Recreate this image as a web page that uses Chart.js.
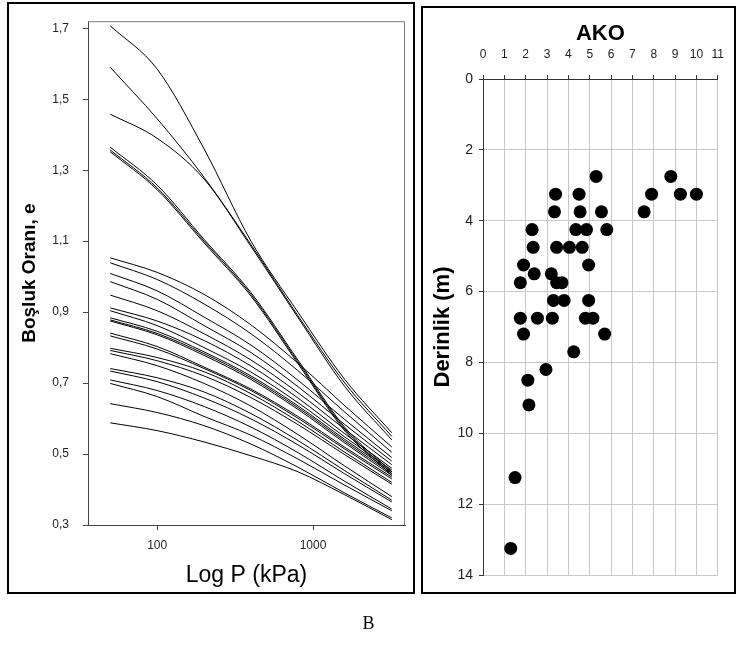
<!DOCTYPE html>
<html><head><meta charset="utf-8">
<script src="https://cdn.jsdelivr.net/npm/chart.js@4.4.1/dist/chart.umd.min.js"></script>
<style>
html,body{margin:0;padding:0;background:#fff;}
body{width:737px;height:647px;position:relative;overflow:hidden;}
canvas{position:absolute;left:0;top:0;}
.panel{position:absolute;border:2px solid #000;box-sizing:border-box;}
#cap{position:absolute;left:0;width:737px;top:613px;text-align:center;font:18px "Liberation Serif","Times New Roman",serif;color:#000;}
</style></head><body>
<div class="panel" style="left:7px;top:2px;width:408px;height:592px"></div>
<div class="panel" style="left:421px;top:6px;width:315px;height:588px"></div>
<canvas id="c1" width="737" height="647"></canvas>
<canvas id="c2" width="737" height="647"></canvas>
<div id="cap">B</div>
<script>
// ---------- Left panel data: void ratio e vs pressure P (kPa) ----------
const pressures = [50, 100, 200, 400, 800, 1600, 3200];
const xTickValues = [100, 1000];
const yTickValues = [0.3, 0.5, 0.7, 0.9, 1.1, 1.3, 1.5, 1.7];

const e01 = [1.707, 1.585, 1.360, 1.100, 0.900, 0.710, 0.560];
const e02 = [1.590, 1.445, 1.280, 1.090, 0.890, 0.700, 0.550];
const e03 = [1.458, 1.390, 1.275, 1.085, 0.885, 0.690, 0.540];
const e04 = [1.365, 1.258, 1.105, 0.955, 0.765, 0.575, 0.450];
const e05 = [1.357, 1.250, 1.100, 0.950, 0.760, 0.570, 0.445];
const e06 = [1.352, 1.245, 1.095, 0.945, 0.755, 0.565, 0.440];
const e07 = [1.053, 1.012, 0.950, 0.864, 0.756, 0.636, 0.520];
const e08 = [1.039, 0.992, 0.923, 0.839, 0.735, 0.618, 0.505];
const e09 = [1.009, 0.960, 0.886, 0.807, 0.708, 0.597, 0.490];
const e10 = [0.986, 0.936, 0.862, 0.786, 0.690, 0.583, 0.480];
const e11 = [0.948, 0.904, 0.839, 0.765, 0.673, 0.570, 0.470];
const e12 = [0.912, 0.875, 0.820, 0.748, 0.658, 0.557, 0.460];
const e13 = [0.904, 0.862, 0.800, 0.731, 0.645, 0.548, 0.455];
const e14 = [0.884, 0.846, 0.788, 0.720, 0.636, 0.541, 0.450];
const e15 = [0.878, 0.840, 0.783, 0.715, 0.631, 0.536, 0.445];
const e16 = [0.875, 0.836, 0.778, 0.710, 0.626, 0.531, 0.440];
const e17 = [0.841, 0.803, 0.745, 0.683, 0.606, 0.519, 0.435];
const e18 = [0.833, 0.796, 0.741, 0.679, 0.601, 0.514, 0.430];
const e19 = [0.798, 0.772, 0.732, 0.670, 0.592, 0.505, 0.420];
const e20 = [0.792, 0.763, 0.720, 0.659, 0.583, 0.498, 0.415];
const e21 = [0.783, 0.749, 0.699, 0.635, 0.555, 0.466, 0.380];
const e22 = [0.741, 0.715, 0.675, 0.614, 0.538, 0.453, 0.370];
const e23 = [0.734, 0.704, 0.658, 0.599, 0.526, 0.444, 0.365];
const e24 = [0.709, 0.679, 0.634, 0.576, 0.504, 0.423, 0.345];
const e25 = [0.699, 0.662, 0.606, 0.553, 0.486, 0.412, 0.340];
const e26 = [0.642, 0.617, 0.580, 0.528, 0.463, 0.390, 0.320];
const e27 = [0.588, 0.566, 0.534, 0.495, 0.450, 0.385, 0.315];
const curves = [e01,e02,e03,e04,e05,e06,e07,e08,e09,e10,e11,e12,e13,e14,e15,e16,e17,e18,e19,e20,e21,e22,e23,e24,e25,e26,e27];

// ---------- Right panel data: AKO vs depth ----------
const akoValues   = [5.3, 8.8, 3.4, 4.5, 7.9, 9.25, 10.0, 3.35, 4.55, 5.55, 7.55, 2.3, 4.35, 4.85, 5.8, 2.35, 3.45, 4.05, 4.65,
                     1.9, 4.95, 2.4, 3.2, 1.75, 3.45, 3.7, 3.3, 3.8, 4.95, 1.75, 2.55, 3.25, 4.8, 5.15, 1.9, 5.7, 4.25, 2.95, 2.1, 2.15, 1.5, 1.3];
const depthValues = [2.75, 2.75, 3.25, 3.25, 3.25, 3.25, 3.25, 3.75, 3.75, 3.75, 3.75, 4.25, 4.25, 4.25, 4.25, 4.75, 4.75, 4.75, 4.75,
                     5.25, 5.25, 5.5, 5.5, 5.75, 5.75, 5.75, 6.25, 6.25, 6.25, 6.75, 6.75, 6.75, 6.75, 6.75, 7.2, 7.2, 7.7, 8.2, 8.5, 9.2, 11.25, 13.25];
const akoTicks = [0,1,2,3,4,5,6,7,8,9,10,11];
const depthTicks = [0,2,4,6,8,10,12,14];

const SANS = '"Liberation Sans", Arial, sans-serif';

const plotBorder = {
  id: 'plotBorder',
  afterDatasetsDraw(chart) {
    const a = chart.chartArea, ctx = chart.ctx;
    ctx.save();
    ctx.strokeStyle = '#7a7a7a';
    ctx.lineWidth = 1;
    ctx.beginPath();
    ctx.moveTo(a.left, a.top + 0.5);
    ctx.lineTo(a.right - 0.5, a.top + 0.5);
    ctx.lineTo(a.right - 0.5, a.bottom);
    ctx.stroke();
    ctx.restore();
  }
};

new Chart(document.getElementById('c1'), {
  type: 'scatter',
  data: {
    datasets: curves.map((c) => ({
      data: pressures.map((p, i) => ({ x: p, y: c[i] })),
      showLine: true,
      borderColor: '#000',
      borderWidth: 1,
      pointRadius: 0,
      tension: 0.4,
      cubicInterpolationMode: 'monotone'
    }))
  },
  options: {
    responsive: false,
    animation: false,
    devicePixelRatio: 1,
    layout: { padding: { left: 18, right: 332, top: 15, bottom: 58 } },
    plugins: { legend: { display: false }, tooltip: { enabled: false } },
    scales: {
      x: {
        type: 'logarithmic',
        min: 36, max: 3890,
        afterBuildTicks: (s) => { s.ticks = xTickValues.map(v => ({ value: v })); },
        afterFit: (s) => { s.height = 64; },
        grid: { drawOnChartArea: false, drawTicks: true, tickLength: 5, tickColor: '#444' },
        border: { color: '#444', width: 1 },
        ticks: { color: '#222', font: { family: SANS, size: 12 }, padding: 8, maxRotation: 0,
                 callback: (v) => String(v) },
        title: { display: true, text: 'Log P (kPa)', color: '#000', font: { family: SANS, size: 23 }, padding: { top: 0, bottom: 0 } }
      },
      y: {
        min: 0.3, max: 1.72,
        afterBuildTicks: (s) => { s.ticks = yTickValues.map(v => ({ value: v })); },
        afterFit: (s) => { s.width = 70; },
        grid: { drawOnChartArea: false, drawTicks: true, tickLength: 5, tickColor: '#444' },
        border: { color: '#444', width: 1 },
        ticks: { color: '#222', font: { family: SANS, size: 12 }, padding: 14,
                 callback: (v) => v.toFixed(1).replace('.', ',') },
        title: { display: true, text: 'Boşluk Oranı, e', color: '#000', font: { family: SANS, size: 19, weight: 'bold' }, padding: { top: 0, bottom: 0 } }
      }
    }
  },
  plugins: [plotBorder]
});

new Chart(document.getElementById('c2'), {
  type: 'scatter',
  data: {
    datasets: [{
      data: akoValues.map((v, i) => ({ x: v, y: depthValues[i] })),
      backgroundColor: '#000',
      borderColor: '#000',
      pointRadius: 6.5,
      pointBorderWidth: 0
    }]
  },
  options: {
    responsive: false,
    animation: false,
    devicePixelRatio: 1,
    layout: { padding: { left: 430, right: 10, top: 20, bottom: 72 } },
    plugins: { legend: { display: false }, tooltip: { enabled: false } },
    scales: {
      x: {
        position: 'top',
        min: 0, max: 11,
        afterBuildTicks: (s) => { s.ticks = akoTicks.map(v => ({ value: v })); },
        afterFit: (s) => { s.height = 59; },
        grid: { color: '#c8c8c8', lineWidth: 1, tickLength: 4, tickColor: '#333' },
        border: { color: '#333', width: 1 },
        ticks: { color: '#222', font: { family: SANS, size: 12 }, padding: 13, maxRotation: 0 },
        title: { display: true, text: 'AKO', color: '#000', font: { family: SANS, size: 22, weight: 'bold' }, padding: { top: 1, bottom: 0 } }
      },
      y: {
        reverse: true,
        min: 0, max: 14,
        afterBuildTicks: (s) => { s.ticks = depthTicks.map(v => ({ value: v })); },
        afterFit: (s) => { s.width = 53; },
        grid: { color: '#c8c8c8', lineWidth: 1, tickLength: 4, tickColor: '#333' },
        border: { color: '#333', width: 1 },
        ticks: { color: '#222', font: { family: SANS, size: 14 }, padding: 6 },
        title: { display: true, text: 'Derinlik (m)', color: '#000', font: { family: SANS, size: 22, weight: 'bold' }, padding: { top: 0, bottom: 0 } }
      }
    }
  }
});
</script>
</body></html>
